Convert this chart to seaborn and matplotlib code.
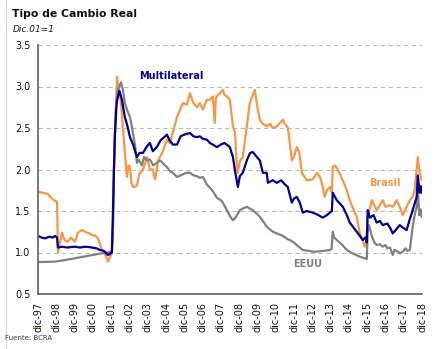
import matplotlib
matplotlib.use("Agg")
import matplotlib.pyplot as plt
from matplotlib.lines import Line2D
import seaborn as sns

# ---- data (years since Dec-1997, index Dec.01 = 1) ----
tick_labels = ["dic-97", "dic-98", "dic-99", "dic-00", "dic-01", "dic-02", "dic-03",
               "dic-04", "dic-05", "dic-06", "dic-07", "dic-08", "dic-09", "dic-10",
               "dic-11", "dic-12", "dic-13", "dic-14", "dic-15", "dic-16", "dic-17",
               "dic-18"]

t_eeuu = [0, 0.93, 1.5, 2.0, 2.5, 3.0, 3.5, 4.04, 4.10, 4.15, 4.25, 4.35, 4.54, 4.65,
          4.75, 4.9, 5.03, 5.14, 5.3, 5.41, 5.5, 5.68, 5.8, 5.96, 6.12, 6.3, 6.5, 6.67,
          7.05, 7.21, 7.38, 7.6, 7.8, 8.0, 8.14, 8.31, 8.5, 8.69, 8.85, 9.02, 9.23, 9.4,
          9.56, 9.78, 10.0, 10.11, 10.33, 10.49, 10.66, 10.8, 11.04, 11.2, 11.42, 11.58,
          11.75, 12.0, 12.13, 12.3, 12.51, 12.84, 13.06, 13.39, 13.66, 13.77, 14.0, 14.2,
          14.48, 14.8, 15.03, 15.25, 15.6, 15.96, 16.05, 16.12, 16.2, 16.34, 16.6, 16.89,
          17.2, 17.6, 17.98, 18.03, 18.1, 18.25, 18.4, 18.52, 18.7, 18.85, 19.0, 19.1,
          19.25, 19.40, 19.5, 19.62, 19.8, 19.95, 20.1, 20.2, 20.33, 20.40, 20.49, 20.6,
          20.71, 20.77, 20.85, 20.92, 20.98]
v_eeuu = [0.885, 0.89, 0.91, 0.93, 0.95, 0.97, 0.99, 1.01, 1.3, 2.0, 2.7, 2.95, 3.05, 2.95,
          2.80, 2.70, 2.63, 2.51, 2.3, 2.08, 2.12, 2.05, 2.15, 2.11, 2.12, 2.05, 2.08, 2.11,
          2.03, 1.98, 1.96, 1.91, 1.93, 1.95, 1.96, 1.96, 1.93, 1.92, 1.90, 1.91, 1.82, 1.78,
          1.74, 1.66, 1.63, 1.60, 1.51, 1.44, 1.39, 1.42, 1.51, 1.53, 1.55, 1.53,
          1.51, 1.46, 1.43, 1.38, 1.31, 1.25, 1.23, 1.20, 1.16, 1.15, 1.12, 1.08,
          1.03, 1.02, 1.01, 1.01, 1.02, 1.03, 1.04, 1.25, 1.18, 1.15, 1.10, 1.03,
          0.99, 0.95, 0.92, 1.25, 1.33, 1.20, 1.12, 1.09, 1.10, 1.07, 1.09, 1.05,
          1.06, 0.97, 1.03, 1.02, 0.99, 1.01, 1.05, 1.02, 1.03, 1.15, 1.31, 1.45,
          1.55, 1.78, 1.45, 1.52, 1.43]

t_multi = [0, 0.2, 0.4, 0.6, 0.8, 0.93, 1.04, 1.09, 1.31, 1.6, 2.0, 2.3, 2.6, 2.95, 3.2,
           3.39, 3.6, 3.83, 4.04, 4.10, 4.2, 4.3, 4.45, 4.59, 4.75, 4.86, 5.03, 5.2, 5.41,
           5.55, 5.74, 5.96, 6.12, 6.28, 6.5, 6.7, 7.05, 7.2, 7.38, 7.6, 7.8, 8.0, 8.31,
           8.5, 8.69, 8.85, 9.02, 9.23, 9.4, 9.56, 9.78, 10.0, 10.2, 10.49, 10.66, 10.8,
           10.93, 11.04, 11.2, 11.42, 11.6, 11.75, 11.97, 12.13, 12.3, 12.51, 12.57, 12.84,
           13.06, 13.3, 13.5, 13.66, 13.88, 14.0, 14.15, 14.32, 14.48, 14.7, 15.03, 15.25,
           15.57, 15.8, 15.96, 16.07, 16.12, 16.34, 16.67, 16.89, 17.05, 17.43, 17.6, 17.76,
           17.9, 17.98, 18.03, 18.15, 18.35, 18.52, 18.7, 18.85, 19.1, 19.25, 19.40, 19.6,
           19.78, 19.95, 20.16, 20.33, 20.49, 20.71, 20.77, 20.87, 20.93, 20.98]
v_multi = [1.20, 1.18, 1.17, 1.19, 1.18, 1.20, 1.18, 1.06, 1.07, 1.06, 1.07, 1.06, 1.07,
           1.06, 1.05, 1.03, 1.02, 0.97, 1.0, 1.5, 2.4, 2.8, 2.95, 2.84, 2.63, 2.55, 2.39,
           2.30, 2.15, 2.20, 2.20, 2.28, 2.32, 2.22, 2.27, 2.35, 2.42, 2.35, 2.30, 2.30, 2.40,
           2.42, 2.44, 2.40, 2.39, 2.40, 2.37, 2.36, 2.32, 2.30, 2.27, 2.30, 2.32, 2.27, 2.15,
           1.95, 1.79, 1.92, 1.96, 2.11, 2.20, 2.21, 2.15, 2.11, 1.96, 1.96, 1.84, 1.87,
           1.84, 1.87, 1.82, 1.79, 1.60, 1.65, 1.67, 1.60, 1.48, 1.50, 1.48, 1.46,
           1.42, 1.45, 1.48, 1.50, 1.72, 1.63, 1.55, 1.45, 1.36, 1.25, 1.20, 1.15,
           1.18, 1.12, 1.51, 1.42, 1.45, 1.36, 1.38, 1.33, 1.35, 1.30, 1.23, 1.28,
           1.33, 1.30, 1.27, 1.40, 1.51, 1.67, 1.93, 1.72, 1.80, 1.72]

t_brasil = [0, 0.3, 0.55, 0.8, 1.04, 1.07, 1.09, 1.2, 1.31, 1.45, 1.64, 1.8, 2.02, 2.19,
            2.4, 2.57, 2.8, 2.95, 3.15, 3.28, 3.4, 3.5, 3.65, 3.77, 3.83, 3.95, 4.04, 4.10,
            4.15, 4.22, 4.32, 4.40, 4.48, 4.56, 4.64, 4.75, 4.86, 4.95, 5.03, 5.10, 5.19,
            5.30, 5.41, 5.55, 5.74, 5.96, 6.12, 6.28, 6.40, 6.50, 6.56, 6.8, 7.05, 7.21,
            7.38, 7.60, 7.92, 8.14, 8.31, 8.5, 8.69, 8.85, 9.02, 9.23, 9.40, 9.56, 9.67,
            9.72, 9.78, 10.11, 10.2, 10.33, 10.49, 10.66, 10.77, 10.87, 10.93, 11.04, 11.20,
            11.42, 11.58, 11.75, 11.86, 12.0, 12.13, 12.3, 12.51, 12.7, 12.84, 13.06, 13.39,
            13.5, 13.66, 13.77, 13.88, 14.0, 14.15, 14.3, 14.43, 14.70, 15.03, 15.25, 15.4,
            15.52, 15.68, 15.8, 15.96, 16.07, 16.12, 16.25, 16.39, 16.67, 16.89, 17.05,
            17.25, 17.43, 17.60, 17.75, 17.87, 17.95, 18.03, 18.25, 18.52, 18.85, 19.0,
            19.23, 19.40, 19.62, 19.78, 19.95, 20.16, 20.33, 20.49, 20.6, 20.71, 20.77,
            20.82, 20.87, 20.93, 20.98]
v_brasil = [1.73, 1.72, 1.70, 1.64, 1.61, 1.30, 1.00, 1.12, 1.24, 1.15, 1.13, 1.18, 1.13,
            1.24, 1.27, 1.25, 1.23, 1.21, 1.20, 1.17, 1.10, 1.03, 0.98, 0.93, 0.89, 0.95,
            0.99, 1.3, 1.96, 2.5, 3.12, 2.95, 2.92, 2.75, 2.52, 2.20, 1.91, 2.05, 2.03, 1.85,
            1.79, 1.79, 1.81, 1.95, 2.0, 2.15, 2.00, 2.0, 1.88, 2.0, 2.11, 2.2, 2.36, 2.32,
            2.45, 2.63, 2.80, 2.78, 2.92, 2.80, 2.75, 2.80, 2.72, 2.84, 2.84, 2.88, 2.56,
            2.85, 2.88, 2.96, 2.90, 2.88, 2.84, 2.52, 2.45, 2.08, 1.96, 2.10, 2.15,
            2.52, 2.80, 2.90, 2.96, 2.75, 2.60, 2.55, 2.52, 2.55, 2.50, 2.52, 2.60,
            2.55, 2.50, 2.32, 2.11, 2.15, 2.27, 2.20, 1.96, 1.87, 1.88, 1.96, 1.92,
            1.84, 1.67, 1.75, 1.79, 1.72, 2.03, 2.05, 2.0, 1.87, 1.75, 1.63,
            1.52, 1.43, 1.23, 1.15, 1.07, 1.12, 1.43, 1.63, 1.51, 1.63, 1.55,
            1.57, 1.55, 1.63, 1.55, 1.45, 1.55, 1.63, 1.67, 1.75, 2.00, 2.15,
            2.05, 1.96, 1.92, 1.87]

# ---- figure ----
sns.set_style("white")
plt.rcParams['font.family'] = ['DejaVu Sans']

fig = plt.figure(figsize=(4.45, 3.49), dpi=100)
ax = fig.add_axes([38/445, 1 - 294/349, (422 - 38)/445, (294 - 45)/349])

c_orange = "#F79646"
c_blue = "#00008C"
c_gray = "#808080"

sns.lineplot(x=t_brasil, y=v_brasil, ax=ax, color=c_orange, linewidth=1.6,
             estimator=None, sort=False)
sns.lineplot(x=t_eeuu, y=v_eeuu, ax=ax, color=c_gray, linewidth=1.6,
             estimator=None, sort=False)
sns.lineplot(x=t_multi, y=v_multi, ax=ax, color=c_blue, linewidth=1.6,
             estimator=None, sort=False)

ax.set_xlim(0, 21)
ax.set_ylim(0.5, 3.5)
ax.set_yticks([0.5, 1.0, 1.5, 2.0, 2.5, 3.0, 3.5])
ax.set_yticklabels(["0.5", "1.0", "1.5", "2.0", "2.5", "3.0", "3.5"], fontsize=7)
ax.set_xticks(range(len(tick_labels)))
ax.set_xticklabels(tick_labels, rotation=90, fontsize=7)

for y in [1.0, 1.5, 2.0, 2.5, 3.0, 3.5]:
    ax.axhline(y, color="#b8b8b8", linestyle=(0, (4, 3)), linewidth=0.8, zorder=0)

for s in ["top", "right"]:
    ax.spines[s].set_visible(False)
for s in ["left", "bottom"]:
    ax.spines[s].set_color("#606060")
    ax.spines[s].set_linewidth(1.2)
ax.tick_params(axis="both", direction="out", length=3.5, width=0.8, color="#606060",
               pad=2, labelcolor="#111111")

ax.text(7.3, 3.13, "Multilateral", color=c_blue, fontsize=7, fontweight="bold",
        ha="center", va="center")
ax.text(18.96, 1.84, "Brasil", color=c_orange, fontsize=7, fontweight="bold",
        ha="center", va="center")
ax.text(14.75, 0.86, "EEUU", color=c_gray, fontsize=7, fontweight="bold",
        ha="center", va="center")

fig.text(12/445, 1 - 14/349, "Tipo de Cambio Real", fontsize=7.8, fontweight="bold",
         color="#111111", va="center", ha="left")
fig.text(13/445, 1 - 29/349, "Dic.01=1", fontsize=6.5, fontstyle="italic",
         color="#10104a", va="center", ha="left")
fig.text(5/445, 1 - 338/349, "Fuente: BCRA", fontsize=5, color="#333366",
         va="center", ha="left")
fig.add_artist(Line2D([6/445, 6/445], [0, 1], color="#d8d8d8", linewidth=0.8))

fig.savefig("out.png", dpi=100)
